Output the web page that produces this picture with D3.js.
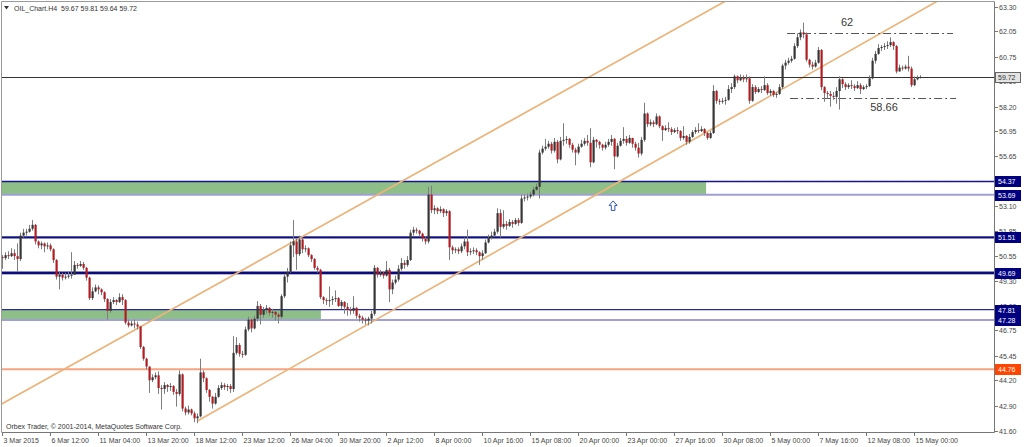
<!DOCTYPE html>
<html><head><meta charset="utf-8">
<script src="https://cdn.jsdelivr.net/npm/d3@7"></script>
<style>body{margin:0;background:#fff}svg{display:block}text{font-family:"Liberation Sans",Arial,sans-serif}</style>
</head><body>
<svg id="c" width="1024" height="447"></svg>
<script>
// ---- data (H4 bars) ----
const firstOpen = 50.5;
const closes = [50.45,50.6,50.55,50.7,50.55,50.4,51.6,51.75,51.8,51.95,52.15,51.3,51.1,51.2,51.05,51.1,50.9,50.35,49.5,49.6,
49.45,49.5,49.55,49.6,50.1,50.05,50.15,49.95,49.45,48.4,48.75,48.95,48.85,48.7,48.35,47.75,48.2,48.3,48.2,48.45,
48.3,47.15,47.0,47.1,47.05,46.95,45.9,45.3,44.9,44.2,44.35,44.45,43.8,43.75,43.95,43.85,43.9,43.6,43.5,44.5,
42.75,42.55,42.7,42.5,42.25,42.35,44.6,44.3,43.7,43.35,43.0,43.35,43.8,43.95,43.85,43.9,43.75,45.6,46.0,45.55,
45.5,46.8,47.3,46.85,47.35,48.0,47.55,47.8,47.9,47.65,47.7,47.55,47.45,48.5,49.5,49.75,51.1,51.3,50.65,51.4,
50.9,50.95,50.6,50.4,49.95,49.85,48.45,48.3,48.25,48.3,48.35,48.4,48.0,48.2,47.95,47.8,47.75,47.9,47.5,47.4,
47.3,47.25,47.35,47.6,49.95,49.6,49.7,49.55,49.85,48.85,49.2,49.35,49.9,50.2,50.1,50.35,51.75,51.9,51.85,51.7,
51.45,51.3,53.7,52.9,53.0,52.85,52.95,52.75,52.85,51.0,50.85,50.9,50.8,51.05,51.3,50.75,50.8,50.85,50.75,50.55,
50.7,51.25,51.5,51.6,51.8,52.75,52.05,52.2,52.1,52.3,52.2,52.4,52.25,53.5,53.55,53.6,53.7,53.95,54.1,55.85,
56.05,56.15,56.3,55.95,56.4,55.5,56.45,56.5,56.55,56.25,56.0,55.85,56.15,56.3,56.45,56.35,55.35,56.5,56.4,56.25,
56.1,56.25,56.4,56.55,55.65,56.2,56.45,56.55,56.35,56.6,56.3,56.1,55.8,56.5,57.85,57.3,57.4,57.3,57.7,57.2,
57.0,57.1,57.05,56.9,57.0,56.95,56.6,56.7,56.4,56.65,56.9,57.0,56.95,57.05,56.85,56.6,56.85,59.0,58.5,58.45,
58.5,58.55,59.1,59.2,59.75,59.55,59.7,59.6,59.65,58.5,59.2,58.95,59.1,59.05,59.3,58.9,59.0,58.8,58.85,59.2,
60.3,60.45,60.55,60.65,61.3,61.75,62.0,61.9,60.6,60.35,60.25,60.45,61.1,59.2,58.9,58.85,58.75,58.7,59.0,59.6,
59.35,59.2,59.3,59.25,59.15,59.3,59.1,59.2,59.25,59.65,60.55,60.9,61.2,61.25,61.3,61.35,61.5,61.3,60.0,60.2,
60.15,60.25,60.15,59.3,59.6,59.67,59.72];
const highs = [50.6,50.75,50.8,50.95,50.9,51.2,51.75,51.95,51.95,52.15,52.4,52.2,51.35,51.3,51.25,51.25,51.2,50.95,50.4,49.75,
49.7,49.7,49.75,50.75,50.3,50.2,50.3,50.25,50.0,49.5,48.95,49.1,49.05,48.9,48.75,48.4,48.35,48.45,48.35,48.65,
48.6,48.35,47.3,47.25,47.3,47.2,46.95,45.95,45.35,44.45,44.5,44.6,44.65,43.95,44.1,44.0,44.05,43.95,43.75,44.7,
44.55,42.85,42.9,42.75,42.6,42.5,45.3,44.7,44.35,43.75,43.4,43.55,43.95,44.1,44.05,44.0,44.0,46.45,46.4,46.1,
45.7,46.95,47.45,47.35,47.5,48.25,48.1,47.95,48.05,47.95,47.85,47.75,47.65,48.6,49.65,49.95,51.3,52.4,51.45,51.6,
51.5,51.1,51.0,50.65,50.45,50.05,49.9,48.5,48.4,49.0,48.5,48.8,48.45,48.3,48.25,48.15,47.95,48.5,47.95,47.6,
47.5,47.4,47.45,47.75,50.1,50.0,49.85,49.75,50.3,49.95,49.35,49.55,50.1,50.45,50.35,50.55,51.9,52.05,52.0,51.9,
51.75,51.55,54.1,54.15,53.15,53.05,53.1,53.0,52.95,52.9,51.1,51.0,51.0,51.2,51.5,51.9,50.95,51.0,50.95,50.8,
50.85,51.4,51.65,51.8,51.95,53.0,52.95,52.9,52.35,52.45,52.4,52.5,52.5,53.7,53.7,53.75,53.85,54.1,54.25,56.0,
56.2,56.55,56.45,56.4,56.6,56.5,56.65,57.35,56.7,56.6,56.35,56.1,56.3,56.5,56.6,56.75,57.1,56.65,56.55,56.45,
56.3,56.4,56.55,56.75,56.6,56.35,56.6,57.15,56.7,56.75,56.6,56.4,56.35,56.65,58.4,57.9,57.55,57.5,57.85,57.75,
57.25,57.25,57.4,57.15,57.1,57.15,57.0,57.2,56.75,56.8,57.0,57.15,57.35,57.2,57.1,56.9,56.95,59.3,59.05,58.6,
58.65,58.7,59.3,59.4,59.85,59.8,59.85,59.8,59.85,59.75,59.35,59.3,59.2,59.25,59.75,59.4,59.1,59.05,58.95,59.35,
60.4,60.6,60.7,60.8,61.45,61.95,62.15,62.5,62.0,60.65,60.5,60.6,61.25,61.15,59.25,59.0,59.0,58.95,59.2,59.75,
59.65,59.45,59.4,59.55,59.35,59.5,59.4,59.3,59.35,59.8,60.7,61.05,61.4,61.35,61.45,61.55,61.75,61.55,61.35,60.35,
60.3,60.35,60.8,60.25,59.75,59.8,59.81];
const lows = [49.9,50.35,50.4,50.5,50.35,49.75,50.3,51.5,51.6,51.75,51.85,51.15,50.95,50.9,50.75,50.9,50.8,50.2,49.35,48.85,
49.3,49.35,49.4,49.4,49.6,49.9,50.0,49.85,49.3,48.3,48.3,48.7,48.6,48.55,48.2,47.3,47.65,48.1,48.05,48.15,
48.05,47.05,46.9,46.95,46.85,46.8,45.8,45.2,44.75,43.55,44.1,44.25,43.5,42.7,43.5,43.6,43.65,43.45,42.85,43.4,
42.6,42.4,42.45,42.4,42.05,42.0,42.3,44.1,43.55,43.1,42.75,42.95,43.3,43.7,43.7,43.65,43.55,43.6,45.5,45.4,
45.35,45.45,46.7,46.65,46.8,47.2,47.05,47.4,47.6,47.5,47.4,47.25,47.1,47.35,48.4,49.2,49.7,50.5,49.85,50.55,
50.7,50.75,50.5,50.25,49.85,49.7,48.35,48.1,48.05,47.95,48.05,48.2,47.95,47.85,47.6,47.5,47.55,47.6,47.35,47.2,
47.1,47.05,47.0,47.1,47.5,49.45,49.5,49.4,49.5,48.2,48.6,49.1,49.25,49.8,49.9,50.0,50.3,51.6,51.7,51.55,
51.3,51.15,51.2,52.75,52.7,52.7,52.75,52.55,52.6,50.35,50.65,50.7,50.65,50.7,50.9,50.55,50.6,50.65,50.6,50.1,
50.35,50.65,51.2,51.4,51.55,51.7,51.5,51.95,51.9,52.05,52.0,52.15,52.1,52.2,53.35,53.4,53.5,53.6,53.9,53.5,
55.75,55.95,56.05,55.8,55.85,55.3,55.45,56.2,56.3,56.1,55.85,55.2,55.75,56.1,56.2,56.2,55.1,55.3,56.1,56.05,
55.95,56.0,56.15,56.2,55.0,55.6,56.15,56.3,56.2,56.3,56.1,55.95,55.6,55.7,56.4,57.15,57.2,57.15,57.25,57.1,
56.45,56.95,56.9,56.75,56.85,56.8,56.45,56.5,56.25,56.3,56.6,56.8,56.85,56.9,56.7,56.5,56.55,56.8,58.35,58.3,
58.35,58.3,58.5,58.9,59.1,59.4,59.5,59.45,59.45,58.35,58.45,58.85,58.9,58.9,59.0,58.8,58.75,58.7,58.65,58.8,
59.1,60.1,60.35,60.45,60.6,61.2,61.6,61.7,60.5,60.2,60.1,60.2,60.4,59.05,58.45,58.6,58.2,58.55,58.35,58.05,
59.15,59.05,59.1,59.1,59.0,59.1,58.85,59.05,59.1,59.2,59.6,60.4,60.85,61.05,61.1,61.15,61.25,61.1,59.9,60.0,
60.05,60.1,60.0,59.2,59.25,59.55,59.64];

const yTickValues = [63.30,62.05,60.75,59.50,58.20,56.95,55.65,54.40,53.10,51.85,50.55,49.30,48.00,46.75,45.45,44.20,42.90,41.60];
const xTickBars = [0,16,32,48,64,80,96,112,128,144,160,176,192,208,224,240,256,272,288,304];
const xTickLabels = ["3 Mar 2015","6 Mar 12:00","11 Mar 04:00","13 Mar 20:00","18 Mar 12:00","23 Mar 12:00","26 Mar 04:00",
  "30 Mar 20:00","2 Apr 12:00","8 Apr 00:00","10 Apr 16:00","15 Apr 08:00","20 Apr 00:00","23 Apr 00:00","27 Apr 16:00",
  "30 Apr 08:00","5 May 00:00","7 May 16:00","12 May 08:00","15 May 00:00"];
const levelPrices = [54.37, 53.69, 51.51, 49.69, 47.81, 47.28, 44.76];
const zoneTops = [54.37, 47.81];
const zoneBottoms = [53.69, 47.28];
const zoneEndBars = [234.7, 106.3];
const upperChannel = [[-0.7, 42.93], [106, 52.05]];
const lowerChannel = [[65, 42.1], [197, 53.6]];
const dashLevels = [61.95, 58.66];
const dashStartBars = [261.7, 262.7];
const dashEndBars = [317, 318];
const dashTexts = ["62", "58.66"];
const dashTextBars = [281.7, 294];
const dashTextPrices = [62.5, 58.13];
const arrowBar = 203.7, arrowPrice = 53.12;
const bidPrice = 59.72;
const header = "OIL_Chart.H4  59.67 59.81 59.64 59.72";
const copyright = "Orbex Trader, \u00a9 2001-2014, MetaQuotes Software Corp.";

// ---- styles ----
const levelStyles = [
  {under:null, color:"#16168a", w:1.6, box:"#000080"},
  {under:null, color:"#a0a0d4", w:1.8, box:"#000080"},
  {under:"#9a9ad0", uw:2.6, color:"#10107c", w:1.6, box:"#000080"},
  {under:"#9a9ad0", uw:3.6, color:"#0c0c78", w:2.2, box:"#000080"},
  {under:null, color:"#2a2a9c", w:1.4, box:"#000080"},
  {under:null, color:"#a0a0d4", w:1.8, box:"#000080"},
  {under:null, color:"#f6a482", w:2, box:"#ff4500"}
];

const svg = d3.select("#c");
const P = {l:2, t:2, r:994, b:432};
const x = d3.scaleLinear().domain([0, 306]).range([2, 920]);
const y = d3.scaleLinear().domain([41.60, 63.30]).range([431, 7]);

svg.append("rect").attr("width",1024).attr("height",447).attr("fill","#fff");
svg.append("clipPath").attr("id","clip").append("rect")
  .attr("x",P.l).attr("y",P.t).attr("width",P.r-P.l).attr("height",P.b-P.t);
const g = svg.append("g").attr("clip-path","url(#clip)");

// zones
zoneTops.forEach((t,k)=>{
  g.append("rect").attr("x",P.l).attr("y",y(t))
    .attr("width",x(zoneEndBars[k])-P.l).attr("height",y(zoneBottoms[k])-y(t))
    .attr("fill","#8fbf88");
});
// level lines
levelPrices.forEach((p,k)=>{
  const s = levelStyles[k];
  if (s.under) g.append("line").attr("x1",P.l).attr("x2",P.r).attr("y1",y(p)).attr("y2",y(p))
      .attr("stroke",s.under).attr("stroke-width",s.uw);
  g.append("line").attr("x1",P.l).attr("x2",P.r).attr("y1",y(p)).attr("y2",y(p))
    .attr("stroke",s.color).attr("stroke-width",s.w);
});
// channel lines
function chan(a, startBar){
  const slope = (a[1][1]-a[0][1])/(a[1][0]-a[0][0]);
  const endBar = 400;
  g.append("line").attr("x1",x(startBar)).attr("y1",y(a[0][1]+slope*(startBar-a[0][0])))
    .attr("x2",x(endBar)).attr("y2",y(a[0][1]+slope*(endBar-a[0][0])))
    .attr("stroke","#ebb47a").attr("stroke-width",1.7);
}
chan(upperChannel, upperChannel[0][0]);
chan(lowerChannel, lowerChannel[0][0]);

// bid line
g.append("line").attr("x1",P.l).attr("x2",P.r).attr("y1",Math.round(y(bidPrice))+0.5).attr("y2",Math.round(y(bidPrice))+0.5)
  .attr("stroke","#333").attr("stroke-width",1);

// dash-dot lines
dashLevels.forEach((p,k)=>{
  g.append("line").attr("x1",x(dashStartBars[k])).attr("x2",x(dashEndBars[k]))
    .attr("y1",Math.round(y(p))+0.5).attr("y2",Math.round(y(p))+0.5)
    .attr("stroke","#555").attr("stroke-width",1).attr("stroke-dasharray","8,3,2,3");
  g.append("text").attr("x",x(dashTextBars[k])).attr("y",y(dashTextPrices[k]))
    .attr("text-anchor","middle").attr("dominant-baseline","middle")
    .attr("font-size",11).attr("fill","#3a3a3a").text(dashTexts[k]);
});

// candles
const cg = g.append("g");
closes.forEach((c,i)=>{
  const o = i===0 ? firstOpen : closes[i-1];
  const h = Math.max(highs[i], o, c), l = Math.min(lows[i], o, c);
  const cx = Math.round(x(i));
  cg.append("line").attr("x1",cx+0.5).attr("x2",cx+0.5).attr("y1",y(h)).attr("y2",y(l))
    .attr("stroke","#7d7d7d").attr("stroke-width",1);
  const top = y(Math.max(o,c)), bot = y(Math.min(o,c));
  cg.append("rect").attr("x",cx-0.5).attr("y",top).attr("width",2.2).attr("height",Math.max(1,bot-top))
    .attr("fill", c>=o ? "#363636" : "#b01c22");
});

// arrow
{
  const ax = x(arrowBar), ay = y(arrowPrice);
  const pts = [[0,-5],[4,-0.5],[1.8,-0.5],[1.8,4.5],[-1.8,4.5],[-1.8,-0.5],[-4,-0.5]];
  g.append("path").attr("d", "M"+pts.map(p=>(ax+p[0])+","+(ay+p[1])).join("L")+"Z")
    .attr("fill","#fff").attr("stroke","#2e55b0").attr("stroke-width",1);
}

// frame
svg.append("line").attr("x1",1.5).attr("x2",1.5).attr("y1",1.5).attr("y2",P.b).attr("stroke","#9a9a9a");
svg.append("line").attr("x1",1.5).attr("x2",P.r).attr("y1",1.5).attr("y2",1.5).attr("stroke","#9a9a9a");
svg.append("line").attr("x1",P.r+0.5).attr("x2",P.r+0.5).attr("y1",1.5).attr("y2",P.b+0.5).attr("stroke","#777");
svg.append("line").attr("x1",1.5).attr("x2",P.r+0.5).attr("y1",P.b+0.5).attr("y2",P.b+0.5).attr("stroke","#777");

// y axis ticks + labels
const ya = svg.append("g");
yTickValues.forEach(v=>{
  const yy = Math.round(y(v))+0.5;
  ya.append("line").attr("x1",P.r).attr("x2",P.r+4).attr("y1",yy).attr("y2",yy).attr("stroke","#777");
  ya.append("text").attr("x",999).attr("y",yy+2.6).attr("font-size",7).attr("fill","#444").text(v.toFixed(2));
});
// x axis ticks + labels
xTickBars.forEach((b,k)=>{
  const xx = Math.round(x(b))+0.5;
  ya.append("line").attr("x1",xx).attr("x2",xx).attr("y1",P.b).attr("y2",P.b+4).attr("stroke","#777");
  ya.append("text").attr("x",xx+1).attr("y",443).attr("font-size",7).attr("fill","#444").text(xTickLabels[k]);
});

// price boxes
function box(p, fill, stroke, tc){
  const yy = Math.round(y(p));
  svg.append("rect").attr("x",995.5).attr("y",yy-4.5).attr("width",25).attr("height",10)
    .attr("fill",fill).attr("stroke",stroke).attr("stroke-width",1);
  svg.append("text").attr("x",998).attr("y",yy+3).attr("font-size",7).attr("fill",tc).text(p.toFixed(2));
}
levelPrices.forEach((p,k)=>box(p, levelStyles[k].box, levelStyles[k].box, "#fff"));
box(bidPrice, "#e4e4e4", "#666", "#333");

// header + copyright
svg.append("path").attr("d","M4,6 L9,6 L6.5,9.5 Z").attr("fill","#333");
svg.append("text").attr("x",14).attr("y",11).attr("font-size",7).attr("fill","#333")
  .attr("xml:space","preserve").style("white-space","pre").text(header);
svg.append("text").attr("x",6).attr("y",429).attr("font-size",7).attr("fill","#333").text(copyright);
</script>
</body></html>
